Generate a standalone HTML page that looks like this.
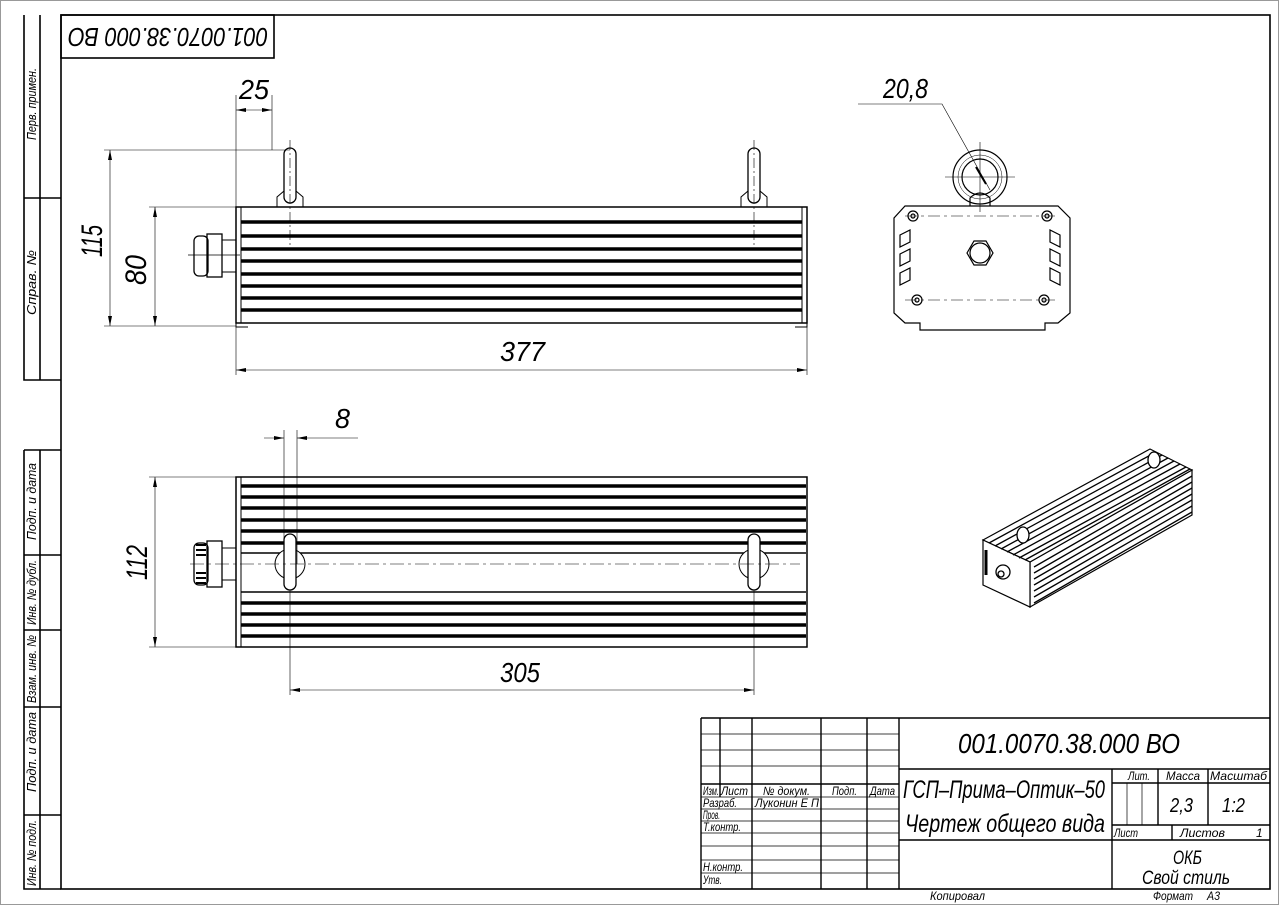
<!DOCTYPE html>
<html><head><meta charset="utf-8"><style>
html,body{margin:0;padding:0;background:#fff}
svg{display:block}
text{font-family:"Liberation Sans Narrow","Liberation Sans","DejaVu Sans",sans-serif;font-style:italic;fill:#000}
</style></head><body>
<svg width="1279" height="905" viewBox="0 0 1279 905" xmlns="http://www.w3.org/2000/svg">
<defs>
<marker id="a" viewBox="0 0 10 4" refX="10" refY="2" markerWidth="10" markerHeight="4" orient="auto-start-reverse" markerUnits="userSpaceOnUse"><path d="M0,0L10,2L0,4z" fill="#000"/></marker>
</defs>
<rect x="0.5" y="0.5" width="1278" height="904" fill="none" stroke="#999"/>
<g fill="none" stroke="#000" stroke-width="1.6">
<rect x="61" y="15" width="1209" height="874"/>
<rect x="61" y="15" width="213" height="43"/>
<path d="M24 15V380H61M40 15V380M24 198H61"/>
<path d="M24 450H61M24 450V889H61M40 450V889M24 555H61M24 630H61M24 707H61M24 815H61"/>
</g>
<g font-size="13">
<text transform="translate(36,140) rotate(-90)" textLength="72" lengthAdjust="spacingAndGlyphs">Перв. примен.</text>
<text transform="translate(36,315) rotate(-90)" textLength="65" lengthAdjust="spacingAndGlyphs">Справ. №</text>
<text transform="translate(36,540) rotate(-90)" textLength="77" lengthAdjust="spacingAndGlyphs">Подп. и дата</text>
<text transform="translate(36,625) rotate(-90)" textLength="65" lengthAdjust="spacingAndGlyphs">Инв. № дубл.</text>
<text transform="translate(36,703) rotate(-90)" textLength="68" lengthAdjust="spacingAndGlyphs">Взам. инв. №</text>
<text transform="translate(36,792) rotate(-90)" textLength="80" lengthAdjust="spacingAndGlyphs">Подп. и дата</text>
<text transform="translate(36,886) rotate(-90)" textLength="66" lengthAdjust="spacingAndGlyphs">Инв. № подл.</text>
</g>
<text transform="translate(268,28) rotate(180)" font-size="26" textLength="200" lengthAdjust="spacingAndGlyphs">001.0070.38.000 ВО</text>

<!-- VIEW 1 -->
<g fill="none" stroke="#000" stroke-width="1">
<rect x="236" y="207" width="571" height="116" stroke-width="1.5"/>
<path d="M241 207V323M802 207V323"/>
<g stroke-width="3.5">
<path d="M241 222H802M241 236H802M241 249H802M241 261H802M241 274H802M241 286H802M241 298H802M241 310H802"/>
</g>
<path d="M236 323v4h12M807 323v4h-12"/>
<rect x="284" y="148" width="12" height="55" rx="6" stroke-width="1.3"/>
<path d="M277 207v-10l7-6M303 207v-10l-7-6"/>
<rect x="748" y="148" width="12" height="55" rx="6" stroke-width="1.3"/>
<path d="M741 207v-10l7-6M767 207v-10l-7-6"/>
<rect x="194" y="236" width="14" height="40" rx="5" stroke-width="1.3"/>
<rect x="207" y="234" width="15" height="43" stroke-width="1.3"/>
<rect x="222" y="240" width="14" height="32"/>
<path d="M207 255H236M188 255H240" stroke-width="0.7"/>
</g>
<g stroke="#000" stroke-width="0.6" fill="none">
<path d="M290 140V245M754 140V245" stroke-dasharray="10 3 2 3"/>
<path d="M236 95V375M272 95V150M807 323V375M104 150H290M149 207H236M104 326H236M149 326H236"/>
<path d="M236 110H272" marker-start="url(#a)" marker-end="url(#a)"/>
<path d="M110 150V326" marker-start="url(#a)" marker-end="url(#a)"/>
<path d="M155 207V326" marker-start="url(#a)" marker-end="url(#a)"/>
<path d="M236 370H807" marker-start="url(#a)" marker-end="url(#a)"/>
</g>
<text x="239" y="99" font-size="28" textLength="30" lengthAdjust="spacingAndGlyphs">25</text>
<text transform="translate(102,257) rotate(-90)" font-size="30" textLength="32" lengthAdjust="spacingAndGlyphs">115</text>
<text transform="translate(146,285) rotate(-90)" font-size="30" textLength="30" lengthAdjust="spacingAndGlyphs">80</text>
<text x="500" y="361" font-size="28" textLength="45" lengthAdjust="spacingAndGlyphs">377</text>

<!-- VIEW 2 -->
<g fill="none" stroke="#000" stroke-width="1">
<rect x="236" y="477" width="571" height="170" stroke-width="1.5"/>
<path d="M241 477V647"/>
<g stroke-width="3.5">
<path d="M241 486H806M241 497H806M241 508H806M241 520H806M241 531H806M241 543H806M241 603H806M241 614H806M241 625H806M241 636H806"/>
</g>
<path d="M241 553H806M241 592H806" stroke-width="1.5"/>
<circle cx="290" cy="564" r="15" fill="#fff"/>
<rect x="284" y="534" width="12" height="56" rx="6" fill="#fff" stroke-width="1.3"/>
<circle cx="754" cy="564" r="15" fill="#fff"/>
<rect x="748" y="534" width="12" height="56" rx="6" fill="#fff" stroke-width="1.3"/>
<rect x="194" y="543" width="14" height="42" rx="5" stroke-width="1.3"/>
<rect x="207" y="541" width="15" height="46" stroke-width="1.3"/>
<rect x="222" y="548" width="14" height="32"/>
<path d="M196 545h10M196 550h10M196 555h10M196 573h10M196 578h10M196 583h10" stroke-width="2"/>
</g>
<g stroke="#000" stroke-width="0.6" fill="none">
<path d="M190 564H800" stroke-dasharray="14 4 3 4"/>
<path d="M284 430V564M297 430V564M290 590V695M754 590V695M149 477H236M149 647H236"/>
<path d="M264 438H284" marker-end="url(#a)"/>
<path d="M297 438H358" marker-start="url(#a)"/>
<path d="M155 477V647" marker-start="url(#a)" marker-end="url(#a)"/>
<path d="M290 690H754" marker-start="url(#a)" marker-end="url(#a)"/>
</g>
<text x="335" y="428" font-size="28" textLength="15" lengthAdjust="spacingAndGlyphs">8</text>
<text transform="translate(147,580) rotate(-90)" font-size="30" textLength="35" lengthAdjust="spacingAndGlyphs">112</text>
<text x="500" y="682" font-size="28" textLength="40" lengthAdjust="spacingAndGlyphs">305</text>

<!-- SIDE VIEW -->
<g fill="none" stroke="#000" stroke-width="1.2">
<path d="M905 206H1058L1070 218V313L1058 323H1045V330H920V323H905L894 313V218Z"/>
<circle cx="980" cy="177" r="27"/>
<circle cx="980" cy="177" r="18"/>
<circle cx="980" cy="177" r="22" stroke-width="0.5"/>
<path d="M970 206V198Q980 188 990 198V206"/>
<path d="M967 253l7-12h12l7 12l-7 12h-12z"/>
<circle cx="980" cy="253" r="10"/>
<circle cx="913" cy="216" r="5"/><circle cx="913" cy="216" r="2"/>
<circle cx="1047" cy="216" r="5"/><circle cx="1047" cy="216" r="2"/>
<circle cx="917" cy="300" r="5"/><circle cx="917" cy="300" r="2"/>
<circle cx="1044" cy="300" r="5"/><circle cx="1044" cy="300" r="2"/>
<path d="M900 235l10 -5v12l-10 5zM900 254l10 -5v12l-10 5zM900 273l10 -5v12l-10 5z"/>
<path d="M1060 235l-10 -5v12l10 5zM1060 254l-10 -5v12l10 5zM1060 273l-10 -5v12l10 5z"/>
</g>
<g stroke="#000" stroke-width="0.6" fill="none">
<path d="M905 216H1055M905 300H1055" stroke-dasharray="12 4 3 4"/>
<path d="M980 142V212M945 177H1015"/>
<path d="M858 104H942L990 190"/>
<path d="M976 167L986 184" stroke-width="2"/>
</g>
<text x="883" y="98" font-size="28" textLength="45" lengthAdjust="spacingAndGlyphs">20,8</text>

<!-- 3D -->
<g fill="#fff" stroke="#000" stroke-width="1.2">
<path d="M1030 562L1192 470V515L1030 607Z"/>
<path d="M983 540L1150 449L1192 470L1030 562Z"/>
<path d="M983 540L1030 562V607L983 585Z"/>
</g>
<g stroke="#000" stroke-width="1.3" fill="none">
<path d="M989 543L1156 452M995 546L1162 455M1001 549L1168 458M1007 552L1174 461M1013 555L1180 464M1019 558L1186 467M1025 560L1190 469"/>
<path d="M1034 567L1192 476M1034 573L1192 482M1034 579L1192 488M1034 585L1192 494M1034 591L1192 500M1034 597L1192 506M1034 603L1192 512"/>
<ellipse cx="1023" cy="535" rx="6" ry="8" fill="#fff"/>
<ellipse cx="1154" cy="460" rx="6" ry="8" fill="#fff"/>
<circle cx="1003" cy="572" r="7" fill="#fff"/>
<circle cx="1001" cy="574" r="3"/>
<path d="M986 550v25" stroke-width="3"/>
</g>

<!-- TITLE BLOCK -->
<g fill="none" stroke="#000" stroke-width="1.4">
<path d="M701 718H1270M701 718V889M720 718V797M752 718V889M821 718V889M867 718V889M899 718V889"/>
<path d="M899 769H1270M1112 769V889M899 840H1112M1112 783H1270M1112 825H1270M1112 840H1270M1158 769V825M1208 769V825M1172 825V840"/>
<path d="M701 784H899"/>
</g>
<g fill="none" stroke="#000" stroke-width="0.7">
<path d="M701 734H899M701 750H899M701 766H899M701 797H899M701 809H899M701 821H899M701 833H899M701 846H899M701 860H899M701 873H899M1127 783V825M1142 783V825"/>
</g>
<text x="958" y="753" font-size="28" textLength="222" lengthAdjust="spacingAndGlyphs">001.0070.38.000 ВО</text>
<text x="903" y="798" font-size="25" textLength="202" lengthAdjust="spacingAndGlyphs">ГСП–Прима–Оптик–50</text>
<text x="905" y="832" font-size="25" textLength="200" lengthAdjust="spacingAndGlyphs">Чертеж общего вида</text>
<g font-size="12">
<text x="703" y="795" textLength="16" lengthAdjust="spacingAndGlyphs">Изм.</text>
<text x="721" y="795" textLength="27" lengthAdjust="spacingAndGlyphs">Лист</text>
<text x="763" y="795" textLength="47" lengthAdjust="spacingAndGlyphs">№ докум.</text>
<text x="832" y="795" textLength="25" lengthAdjust="spacingAndGlyphs">Подп.</text>
<text x="870" y="795" textLength="25" lengthAdjust="spacingAndGlyphs">Дата</text>
<text x="703" y="807" textLength="34" lengthAdjust="spacingAndGlyphs">Разраб.</text>
<text x="755" y="807" textLength="64" lengthAdjust="spacingAndGlyphs">Луконин Е П</text>
<text x="703" y="819" textLength="17" lengthAdjust="spacingAndGlyphs">Пров.</text>
<text x="703" y="831" textLength="38" lengthAdjust="spacingAndGlyphs">Т.контр.</text>
<text x="703" y="871" textLength="40" lengthAdjust="spacingAndGlyphs">Н.контр.</text>
<text x="703" y="884" textLength="19" lengthAdjust="spacingAndGlyphs">Утв.</text>
<text x="1128" y="780" textLength="22" lengthAdjust="spacingAndGlyphs">Лит.</text>
<text x="1166" y="780" textLength="34" lengthAdjust="spacingAndGlyphs">Масса</text>
<text x="1210" y="780" textLength="57" lengthAdjust="spacingAndGlyphs">Масштаб</text>
<text x="1114" y="837" textLength="24" lengthAdjust="spacingAndGlyphs">Лист</text>
<text x="1180" y="837" textLength="45" lengthAdjust="spacingAndGlyphs">Листов</text>
<text x="1256" y="837">1</text>
<text x="930" y="900" textLength="55" lengthAdjust="spacingAndGlyphs">Копировал</text>
<text x="1153" y="900" textLength="40" lengthAdjust="spacingAndGlyphs">Формат</text>
<text x="1207" y="900" textLength="13" lengthAdjust="spacingAndGlyphs">А3</text>
</g>
<text x="1170" y="812" font-size="20" textLength="23" lengthAdjust="spacingAndGlyphs">2,3</text>
<text x="1222" y="812" font-size="20" textLength="23" lengthAdjust="spacingAndGlyphs">1:2</text>
<text x="1173" y="864" font-size="19" textLength="29" lengthAdjust="spacingAndGlyphs">ОКБ</text>
<text x="1142" y="884" font-size="19" textLength="88" lengthAdjust="spacingAndGlyphs">Свой стиль</text>
</svg>
</body></html>
